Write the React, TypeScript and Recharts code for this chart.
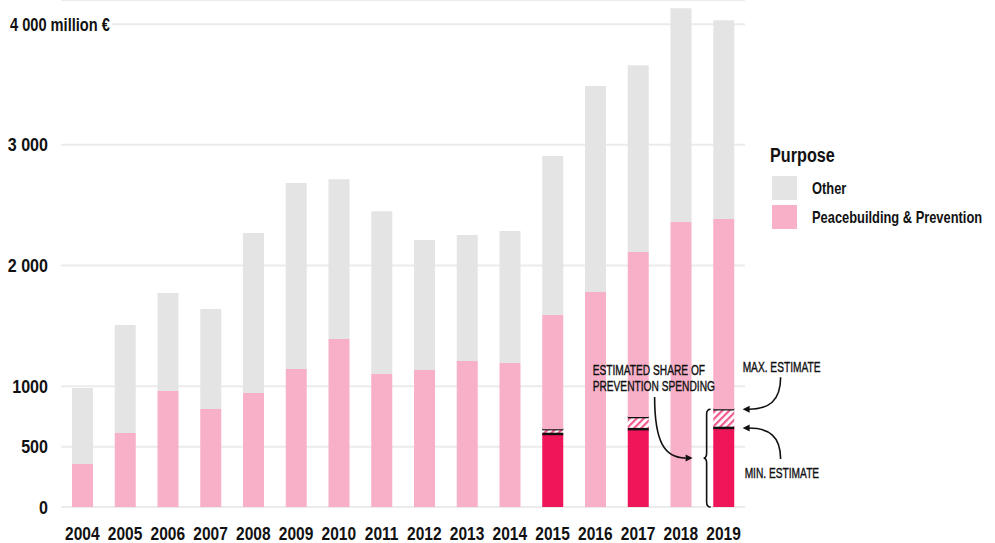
import { ComposedChart, Bar, XAxis, YAxis, CartesianGrid, ReferenceLine, ReferenceDot } from "recharts"

const FONT = '"Liberation Sans", Arial, sans-serif'
// the source uses a condensed face; squeeze Liberation Sans horizontally
const SQUEEZE = 0.79

const years = ["2004", "2005", "2006", "2007", "2008", "2009", "2010", "2011", "2012", "2013", "2014", "2015", "2016", "2017", "2018", "2019"]
// total ODA per year (million €)
const totals = [985, 1507, 1772, 1640, 2269, 2683, 2716, 2451, 2211, 2253, 2286, 2907, 3487, 3660, 4132, 4033]
// peacebuilding & prevention part
const peace = [356, 613, 961, 812, 944, 1143, 1391, 1101, 1135, 1209, 1193, 1590, 1781, 2112, 2360, 2385]
// estimated prevention share, only for some years
const minEstimate = [0, 0, 0, 0, 0, 0, 0, 0, 0, 0, 0, 605, 0, 645, 0, 655]
const maxEstimate = [0, 0, 0, 0, 0, 0, 0, 0, 0, 0, 0, 645, 0, 745, 0, 810]

const yTicks = [0, 500, 1000, 2000, 3000, 4000]
const yTickLabels = ["0", "500", "1000", "2 000", "3 000", "4 000 million €"]

const COLORS = {
  other: "#e4e4e4",
  peace: "#f8b0c8",
  prevention: "#ee1559",
  hatch: "#f2588a",
  grid: "#ebebeb",
}

const data = years.map((year, i) => ({
  year,
  prevMin: minEstimate[i],
  prevRange: maxEstimate[i] - minEstimate[i],
  peaceRest: peace[i] - maxEstimate[i],
  other: totals[i] - peace[i],
}))

const SText = ({ x, y, sx = SQUEEZE, children, ...rest }: any) => (
  <text transform={`translate(${x} ${y}) scale(${sx} 1)`} fontFamily={FONT} fill="#111" {...rest}>
    {children}
  </text>
)

const YTick = (props: any) => {
  const { y, payload } = props
  const label = yTickLabels[yTicks.indexOf(payload.value)]
  if (payload.value === 4000) {
    return (
      <g>
        <rect x={0} y={y - 6} width={112} height={12} fill="#fff" />
        <SText x={10} y={y + 6.5} fontWeight="bold" fontSize={18.5}>
          {label}
        </SText>
      </g>
    )
  }
  return (
    <SText x={48} y={y + 6.5} sx={0.87} textAnchor="end" fontWeight="bold" fontSize={18.5}>
      {label}
    </SText>
  )
}

const XTick = (props: any) => {
  const { x, y, payload } = props
  return (
    <SText x={x} y={y + 25} sx={0.84} textAnchor="middle" fontWeight="bold" fontSize={18.5}>
      {payload.value}
    </SText>
  )
}

// hatched band with black lines at min and max
const RangeShape = (props: any) => {
  const { x, y, width, height } = props
  if (!height || height <= 0) return null
  return (
    <g>
      <rect x={x} y={y} width={width} height={height} fill="url(#hatch)" />
      <line x1={x} x2={x + width} y1={y} y2={y} stroke="#111" strokeWidth={2.5} />
      <line x1={x} x2={x + width} y1={y + height} y2={y + height} stroke="#111" strokeWidth={2.5} />
    </g>
  )
}

const arrowHead = (x: number, y: number, dir: 1 | -1) => (
  <path d={`M${x} ${y} L${x - dir * 7} ${y - 3.5} L${x - dir * 7} ${y + 3.5} Z`} fill="#111" />
)

const anno = { fontSize: 15, sx: 0.68, stroke: "#111", strokeWidth: 0.4 }

// curly brace spanning the 2019 estimate (0 .. max)
const BraceShape = (props: any) => {
  const { x1, y1, y2 } = props
  if (x1 == null || y1 == null || y2 == null) return null
  const tip = x1 - 20
  const top = Math.min(y1, y2)
  const bot = Math.max(y1, y2)
  const mid = (top + bot) / 2
  const d = `M${tip + 7} ${top} Q${tip + 3} ${top} ${tip + 3} ${top + 5} L${tip + 3} ${mid - 5} Q${tip + 3} ${mid} ${tip} ${mid} Q${tip + 3} ${mid} ${tip + 3} ${mid + 5} L${tip + 3} ${bot - 5} Q${tip + 3} ${bot} ${tip + 7} ${bot}`
  return <path d={d} fill="none" stroke="#111" strokeWidth={1.6} />
}

// note + arrow pointing at the brace middle
const ShareNote = (props: any) => {
  const { cx, cy } = props
  const tip = cx - 20
  const mid = cy
  const sx = tip - 49
  const sy = mid - 61
  return (
    <g>
      <path d={`M${sx} ${sy} C${sx} ${sy + 45} ${sx + 10} ${mid} ${tip - 18} ${mid}`} fill="none" stroke="#111" strokeWidth={1.6} />
      {arrowHead(tip - 11, mid, 1)}
      <SText x={tip - 111} y={mid - 83} {...anno}>ESTIMATED SHARE OF</SText>
      <SText x={tip - 111} y={mid - 67} {...anno}>PREVENTION SPENDING</SText>
    </g>
  )
}

const MaxLabel = (props: any) => {
  const { cx, cy } = props
  return (
    <g>
      <SText x={cx + 19} y={cy - 37} {...anno}>MAX. ESTIMATE</SText>
      <path d={`M${cx + 57} ${cy - 32} C${cx + 57} ${cy - 8} ${cx + 45} ${cy} ${cx + 25} ${cy}`} fill="none" stroke="#111" strokeWidth={1.6} />
      {arrowHead(cx + 19, cy, -1)}
    </g>
  )
}

const MinLabel = (props: any) => {
  const { cx, cy } = props
  return (
    <g>
      <SText x={cx + 21} y={cy + 50} {...anno}>MIN. ESTIMATE</SText>
      <path d={`M${cx + 57} ${cy + 31} C${cx + 57} ${cy + 8} ${cx + 45} ${cy} ${cx + 25} ${cy}`} fill="none" stroke="#111" strokeWidth={1.6} />
      {arrowHead(cx + 19, cy, -1)}
    </g>
  )
}

const legendItems = [
  { label: "Other", color: COLORS.other },
  { label: "Peacebuilding & Prevention", color: COLORS.peace },
]

const LegendBox = () => (
  <svg width={995} height={543} style={{ position: "absolute", left: 0, top: 0, pointerEvents: "none" }}>
    <SText x={770} y={162} fontWeight="bold" fontSize={20.5}>Purpose</SText>
    {legendItems.map((item, i) => (
      <g key={item.label}>
        <rect x={772} y={176 + i * 29} width={25} height={24} fill={item.color} />
        <SText x={812} y={194 + i * 29} fontWeight="bold" fontSize={16.3}>{item.label}</SText>
      </g>
    ))}
  </svg>
)

export default function App() {
  const last = years.length - 1
  return (
    <div style={{ position: "absolute", left: 0, top: 0, width: 995, height: 543, background: "#fff" }}>
      <ComposedChart width={995} height={543} data={data} margin={{ top: 0, right: 250, bottom: 6, left: 0 }} barCategoryGap={0}>
        <defs>
          <pattern id="hatch" patternUnits="userSpaceOnUse" width={5} height={5} patternTransform="rotate(45)">
            <rect width={5} height={5} fill="#fff" />
            <rect width={2.2} height={5} fill={COLORS.hatch} />
          </pattern>
        </defs>
        <CartesianGrid vertical={false} stroke={COLORS.grid} strokeWidth={2} />
        <XAxis dataKey="year" axisLine={false} tickLine={false} height={30} tick={<XTick />} interval={0} />
        <YAxis domain={[0, 4200]} ticks={yTicks} axisLine={false} tickLine={false} width={61} tick={<YTick />} />
        <Bar dataKey="prevMin" stackId="a" fill={COLORS.prevention} barSize={21} isAnimationActive={false} />
        <Bar dataKey="prevRange" stackId="a" fill={COLORS.hatch} barSize={21} shape={<RangeShape />} isAnimationActive={false} />
        <Bar dataKey="peaceRest" stackId="a" fill={COLORS.peace} barSize={21} isAnimationActive={false} />
        <Bar dataKey="other" stackId="a" fill={COLORS.other} barSize={21} isAnimationActive={false} />
        <ReferenceLine
          segment={[
            { x: years[last], y: 0 },
            { x: years[last], y: maxEstimate[last] },
          ]}
          shape={<BraceShape />}
        />
        <ReferenceDot x={years[last]} y={maxEstimate[last] / 2} shape={<ShareNote />} />
        <ReferenceDot x={years[last]} y={maxEstimate[last]} shape={<MaxLabel />} />
        <ReferenceDot x={years[last]} y={minEstimate[last]} shape={<MinLabel />} />
      </ComposedChart>
      <LegendBox />
    </div>
  )
}
